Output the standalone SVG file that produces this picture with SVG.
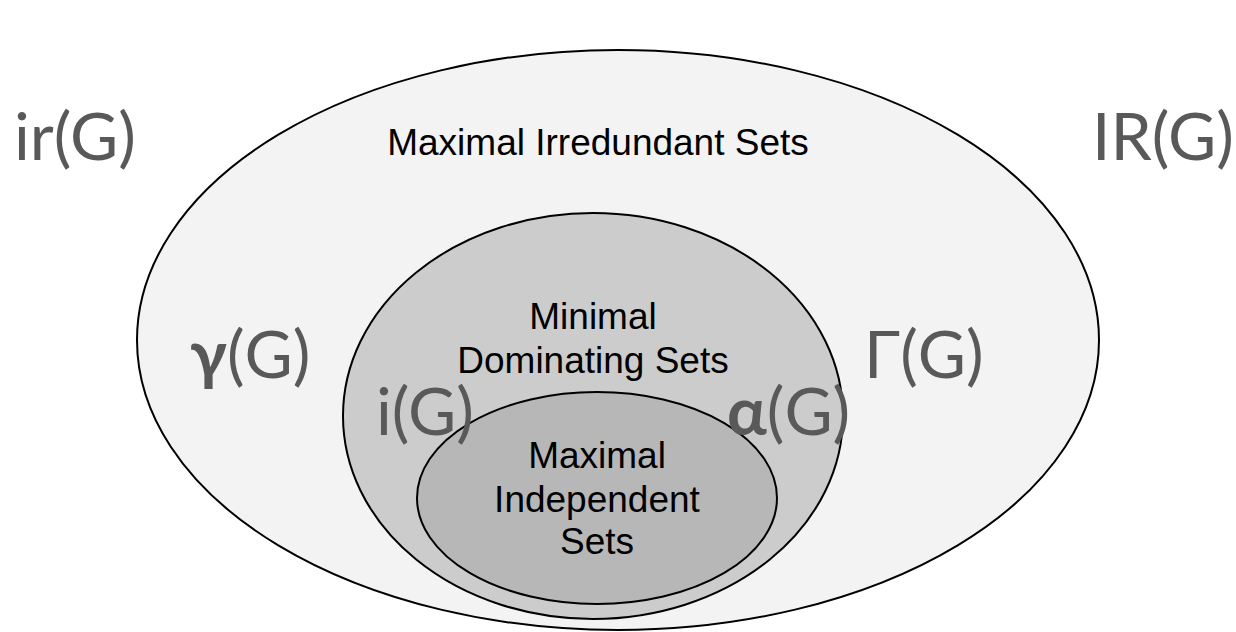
<svg xmlns="http://www.w3.org/2000/svg" width="1236" height="632" viewBox="0 0 1236 632">
<style>
.e{stroke:#000;stroke-width:2}
.t{font-family:"Liberation Sans",Arial,sans-serif;font-size:37px;fill:#000;text-anchor:middle}
.g{font-family:Lato,"Open Sans",sans-serif;font-size:66px;fill:#595959}
.b{font-weight:bold}
</style>
<rect width="1236" height="632" fill="#fff"/>
<g id="outer"><ellipse class="e" cx="618" cy="340" rx="481" ry="290" fill="#f3f3f3"/>
<text class="t" x="598" y="155">Maximal Irredundant Sets</text></g>
<g id="middle"><ellipse class="e" cx="593" cy="416" rx="250" ry="203" fill="#cccccc"/>
<text class="t" x="593" y="329">Minimal</text><text class="t" x="593" y="373">Dominating Sets</text></g>
<g id="inner"><ellipse class="e" cx="597" cy="498" rx="180" ry="106" fill="#b7b7b7"/>
<text class="t" x="597" y="468">Maximal</text><text class="t" x="597" y="512">Independent</text><text class="t" x="597" y="554">Sets</text></g>
<g id="labels">
<text class="g" x="14" y="160">ir(G)</text>
<text class="g" x="1092" y="160">IR(G)</text>
<text class="g" x="190" y="378"><tspan class="b">γ</tspan>(G)</text>
<text class="g" x="864" y="378">Γ(G)</text>
<text class="g" x="376" y="435">i(G)</text>
<text class="g" x="727" y="435"><tspan class="b">α</tspan>(G)</text>
</g>
<g id="connectors"/>
</svg>
